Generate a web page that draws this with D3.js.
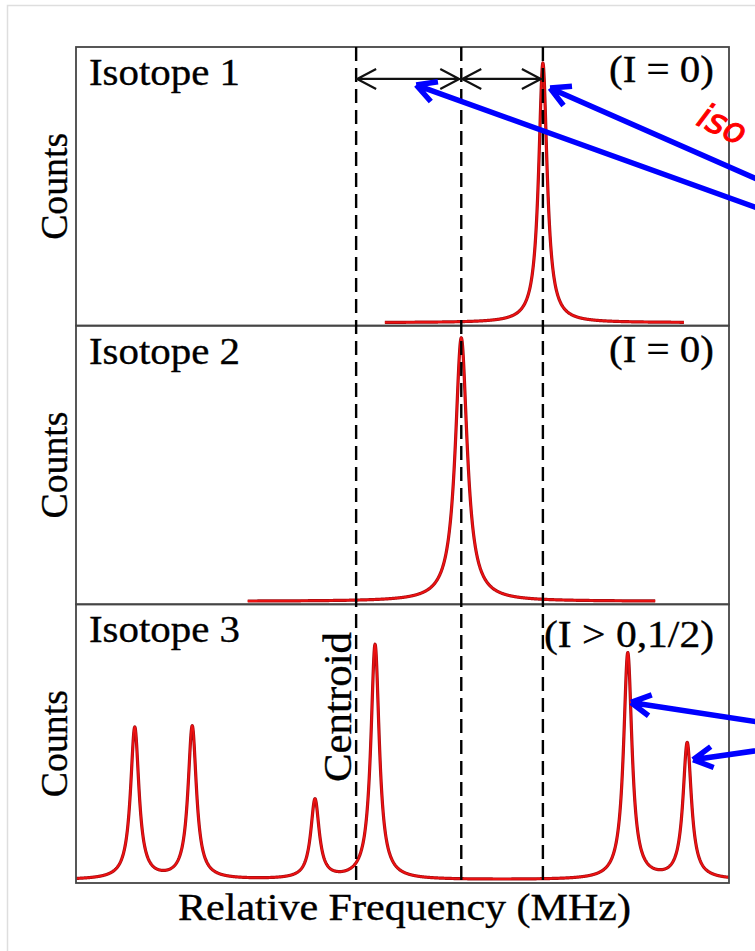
<!DOCTYPE html>
<html>
<head>
<meta charset="utf-8">
<script src="https://cdn.jsdelivr.net/npm/d3@7"></script>
<style>
  html, body { margin: 0; padding: 0; background: #fff; }
  svg { display: block; }
</style>
</head>
<body>
<div id="chart"></div>
<script>
// panel labels
const panelNames = ['Isotope 1', 'Isotope 2', 'Isotope 3'];
const spinLabels = ['(I = 0)', '(I = 0)', '(I > 0,1/2)'];

// peaks: centre (relative frequency, arb. 0-100) and height (counts, arb. 0-100)
const iso1Centres = [71.5];
const iso1Heights = [94.2];
const iso2Centres = [59.0];
const iso2Heights = [95.6];
const iso3Centres = [9.0, 17.8, 36.6, 45.8, 84.5, 93.6];
const iso3Heights = [55.0, 55.4, 28.7, 85.2, 82.1, 49.3];
const halfWidths = [0.78, 1.1, 0.78]; // lorentzian HWHM per isotope
const scanFrom = [47.3, 26.3, 0];
const scanTo = [93.1, 88.7, 100];

// dashed guides: centroid of isotope 3, isotope 2, isotope 1
const guideFreqs = [42.9, 59.0, 71.5];

// blue pointers (tails run off the right side)
const noteTipFreq = [72.6, 52.1, 85.0, 94.5];
const noteTipCounts = [85.1, 86.2, 64.4, 43.6];
const noteTailCounts = [45.2, 36.0, 55.0, 49.2];
const notePanel = [0, 0, 2, 2];
const noteTailFreq = 110.9;

const isotopes = [
  { centres: iso1Centres, heights: iso1Heights },
  { centres: iso2Centres, heights: iso2Heights },
  { centres: iso3Centres, heights: iso3Heights },
];

const size = { width: 755, height: 951 };
const margin = { top: 47, right: 26, bottom: 68, left: 76 };
const panelH = (size.height - margin.top - margin.bottom) / 3;
const serif = "'Liberation Serif', 'Times New Roman', serif";

const svg = d3.select('#chart')
  .append('svg')
  .attr('width', size.width)
  .attr('height', size.height);

// light outer frame
svg.append('rect')
  .attr('x', 7.5).attr('y', 5.5)
  .attr('width', 900).attr('height', 1000)
  .attr('fill', 'none')
  .attr('stroke', '#dedede')
  .attr('stroke-width', 1.5);

const x = d3.scaleLinear()
  .domain([0, 100])
  .range([margin.left, size.width - margin.right]);

const yScales = [0, 1, 2].map((i) => d3.scaleLinear()
  .domain([-1.1, 100])
  .range([margin.top + (i + 1) * panelH, margin.top + i * panelH]));

// spectrum line shape
const profile = (iso, w, from, to) => {
  const pts = [];
  for (let f = from; f <= to + 1e-9; f += 0.05) {
    let c = 0;
    iso.centres.forEach((c0, j) => {
      const u = (f - c0) / w;
      c += iso.heights[j] / (1 + u * u);
    });
    pts.push({ f, c });
  }
  return pts;
};

isotopes.forEach((iso, i) => {
  const y = yScales[i];
  const line = d3.line().x((d) => x(d.f)).y((d) => y(d.c));
  const d = line(profile(iso, halfWidths[i], scanFrom[i], scanTo[i]));
  svg.append('path')
    .attr('d', d)
    .attr('fill', 'none')
    .attr('stroke', '#a50d12')
    .attr('stroke-width', 3.2)
    .attr('stroke-linejoin', 'round');
  svg.append('path')
    .attr('d', d)
    .attr('fill', 'none')
    .attr('stroke', '#ee1111')
    .attr('stroke-width', 1.8)
    .attr('stroke-linejoin', 'round');
});

// panel frames
[0, 1, 2].forEach((i) => {
  svg.append('rect')
    .attr('x', x(0))
    .attr('y', yScales[i].range()[1])
    .attr('width', x(100) - x(0))
    .attr('height', panelH)
    .attr('fill', 'none')
    .attr('stroke', '#454545')
    .attr('stroke-width', 1.8);
});

// dashed guides through all panels
svg.selectAll('.guide')
  .data(guideFreqs)
  .join('line')
  .attr('x1', (d) => x(d)).attr('x2', (d) => x(d))
  .attr('y1', yScales[0].range()[1])
  .attr('y2', yScales[2].range()[0] + 2)
  .attr('stroke', '#000')
  .attr('stroke-width', 2.4)
  .attr('stroke-dasharray', '14,7');

// double-headed spacing arrows
const arrowY = yScales[0](88.4);
const chevron = (tipX, dir) => `M${tipX + dir * 19},${arrowY - 10}L${tipX},${arrowY}L${tipX + dir * 19},${arrowY + 10}`;
d3.pairs(guideFreqs).forEach(([a, b]) => {
  const x1 = x(a) + 1;
  const x2 = x(b) - 2;
  svg.append('path')
    .attr('d', `M${x1},${arrowY}L${x2},${arrowY}` + chevron(x1, 1) + chevron(x2, -1))
    .attr('fill', 'none')
    .attr('stroke', '#111')
    .attr('stroke-width', 2.2);
});

// blue pointers
noteTipFreq.forEach((f, k) => {
  const y = yScales[notePanel[k]];
  const tx = x(f), ty = y(noteTipCounts[k]);
  const ex = x(noteTailFreq), ey = y(noteTailCounts[k]);
  const ang = Math.atan2(ey - ty, ex - tx);
  const arm = (da) => `M${tx + 22 * Math.cos(ang + da)},${ty + 22 * Math.sin(ang + da)}L${tx},${ty}`;
  svg.append('path')
    .attr('d', `M${ex},${ey}L${tx + 1.5 * Math.cos(ang)},${ty + 1.5 * Math.sin(ang)}` + arm(0.5) + arm(-0.5))
    .attr('fill', 'none')
    .attr('stroke', '#0000ff')
    .attr('stroke-width', 5.5)
    .attr('stroke-linejoin', 'round');
});

// red note (only its start shows in the crop)
svg.append('text')
  .attr('transform', `translate(${x(94.8)},${yScales[0](72.0)}) rotate(26)`)
  .attr('font-family', "'DejaVu Sans', sans-serif")
  .attr('font-style', 'italic')
  .attr('font-size', 35)
  .attr('fill', '#ff0000')
  .attr('stroke', '#ff0000')
  .attr('stroke-width', 1)
  .text('iso');

// panel texts
const ink = (sel) => sel.attr('font-family', serif)
  .attr('stroke', '#000').attr('stroke-width', 0.35)
  .attr('lengthAdjust', 'spacingAndGlyphs');

panelNames.forEach((name, i) => {
  const top = yScales[i].range()[1];
  svg.append('text')
    .attr('x', 89).attr('y', top + 38)
    .attr('font-size', 38)
    .attr('textLength', 151)
    .call(ink)
    .text(name);
});

const spinDy = [35, 36, 43];
const spinWidth = [105, 105, 170];
spinLabels.forEach((lab, i) => {
  const top = yScales[i].range()[1];
  svg.append('text')
    .attr('x', 714).attr('y', top + spinDy[i])
    .attr('text-anchor', 'end')
    .attr('font-size', 38)
    .attr('textLength', spinWidth[i])
    .call(ink)
    .text(lab);
});

[0, 1, 2].forEach((i) => {
  const r = yScales[i].range();
  svg.append('text')
    .attr('transform', `translate(67,${(r[0] + r[1]) / 2}) rotate(-90)`)
    .attr('text-anchor', 'middle')
    .attr('font-size', 38)
    .attr('textLength', 107)
    .call(ink)
    .text('Counts');
});

svg.append('text')
  .attr('transform', `translate(${x(guideFreqs[0]) - 5},707) rotate(-90)`)
  .attr('text-anchor', 'middle')
  .attr('font-size', 41)
  .attr('textLength', 150)
  .call(ink)
  .text('Centroid');

svg.append('text')
  .attr('x', (x(0) + x(100)) / 2 + 2)
  .attr('y', 920)
  .attr('text-anchor', 'middle')
  .attr('font-size', 37)
  .attr('textLength', 453)
  .call(ink)
  .text('Relative Frequency (MHz)');
</script>
</body>
</html>
